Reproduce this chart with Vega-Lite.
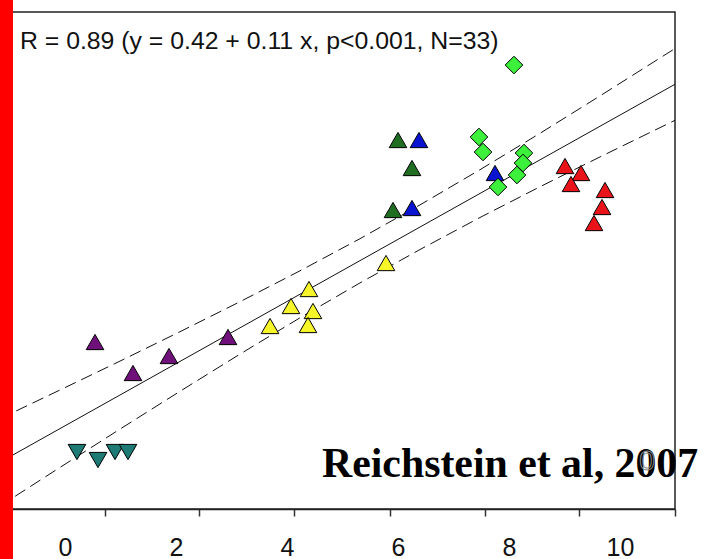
{
  "$schema": "https://vega.github.io/schema/vega-lite/v6.json",
  "width": 675,
  "height": 497,
  "autosize": {"type": "none"},
  "padding": {"left": 0, "top": 12, "right": 29, "bottom": 50},
  "background": "white",
  "config": {
    "view": {"stroke": "#222", "strokeWidth": 1.5, "fill": "white"},
    "axis": {"grid": false, "title": null}
  },
  "datasets": {
    "bands": [
      {"band": "upper", "x": -1.171, "y": 0.4454},
      {"band": "upper", "x": -0.090, "y": 0.5467},
      {"band": "upper", "x": 0.991, "y": 0.6490},
      {"band": "upper", "x": 2.072, "y": 0.7531},
      {"band": "upper", "x": 3.153, "y": 0.8593},
      {"band": "upper", "x": 4.234, "y": 0.9686},
      {"band": "upper", "x": 5.315, "y": 1.0823},
      {"band": "upper", "x": 6.396, "y": 1.2019},
      {"band": "upper", "x": 7.477, "y": 1.3265},
      {"band": "upper", "x": 8.559, "y": 1.4554},
      {"band": "upper", "x": 9.640, "y": 1.5878},
      {"band": "upper", "x": 10.991, "y": 1.7555},
      {"band": "lower", "x": -1.171, "y": 0.1361},
      {"band": "lower", "x": -0.090, "y": 0.2727},
      {"band": "lower", "x": 0.991, "y": 0.4083},
      {"band": "lower", "x": 2.072, "y": 0.5421},
      {"band": "lower", "x": 3.153, "y": 0.6738},
      {"band": "lower", "x": 4.234, "y": 0.8023},
      {"band": "lower", "x": 5.315, "y": 0.9258},
      {"band": "lower", "x": 6.396, "y": 1.0440},
      {"band": "lower", "x": 7.477, "y": 1.1573},
      {"band": "lower", "x": 8.559, "y": 1.2663},
      {"band": "lower", "x": 9.640, "y": 1.3718},
      {"band": "lower", "x": 10.991, "y": 1.5014}
    ],
    "fit": [
      {"x": -1.171, "y": 0.2912},
      {"x": 10.991, "y": 1.6290}
    ],
    "points": [
      {"site": "purple", "x": 0.541, "y": 0.7166},
      {"site": "purple", "x": 1.225, "y": 0.6069},
      {"site": "purple", "x": 1.874, "y": 0.6670},
      {"site": "purple", "x": 2.937, "y": 0.7343},
      {"site": "teal", "x": 0.216, "y": 0.3272},
      {"site": "teal", "x": 0.595, "y": 0.2989},
      {"site": "teal", "x": 0.901, "y": 0.3272},
      {"site": "teal", "x": 1.135, "y": 0.3272},
      {"site": "yellow", "x": 3.694, "y": 0.7732},
      {"site": "yellow", "x": 4.072, "y": 0.8440},
      {"site": "yellow", "x": 4.396, "y": 0.9042},
      {"site": "yellow", "x": 4.468, "y": 0.8263},
      {"site": "yellow", "x": 4.378, "y": 0.7768},
      {"site": "yellow", "x": 5.784, "y": 0.9962},
      {"site": "darkgreen", "x": 6.000, "y": 1.4316},
      {"site": "darkgreen", "x": 6.252, "y": 1.3325},
      {"site": "darkgreen", "x": 5.910, "y": 1.1839},
      {"site": "blue", "x": 6.378, "y": 1.4316},
      {"site": "blue", "x": 6.252, "y": 1.1909},
      {"site": "blue", "x": 7.748, "y": 1.3148},
      {"site": "lightgreen", "x": 8.090, "y": 1.6971},
      {"site": "lightgreen", "x": 7.459, "y": 1.4423},
      {"site": "lightgreen", "x": 7.532, "y": 1.3892},
      {"site": "lightgreen", "x": 7.802, "y": 1.2653},
      {"site": "lightgreen", "x": 8.270, "y": 1.3856},
      {"site": "lightgreen", "x": 8.252, "y": 1.3502},
      {"site": "lightgreen", "x": 8.144, "y": 1.3078},
      {"site": "red", "x": 9.009, "y": 1.3396},
      {"site": "red", "x": 9.297, "y": 1.3148},
      {"site": "red", "x": 9.117, "y": 1.2759},
      {"site": "red", "x": 9.730, "y": 1.2547},
      {"site": "red", "x": 9.676, "y": 1.1945},
      {"site": "red", "x": 9.532, "y": 1.1378}
    ]
  },
  "layer": [
    {
      "data": {"name": "bands"},
      "mark": {"type": "line", "color": "#111", "strokeWidth": 1, "strokeDash": [12, 6]},
      "encoding": {
        "x": {"field": "x", "type": "quantitative",
          "scale": {"domain": [-1.171, 10.991], "nice": false, "zero": false},
          "axis": {"orient": "bottom", "values": [0, 2, 4, 6, 8, 10], "ticks": false, "domain": false,
            "labelFont": "Liberation Sans", "labelFontSize": 25, "labelColor": "#111",
            "labelBaseline": "alphabetic", "labelPadding": 46, "labelFlush": false, "labelOverlap": false}},
        "y": {"field": "y", "type": "quantitative",
          "scale": {"domain": [0.1255, 1.8848], "nice": false, "zero": false}, "axis": null},
        "detail": {"field": "band"}
      }
    },
    {
      "data": {"name": "fit"},
      "mark": {"type": "line", "color": "#111", "strokeWidth": 1},
      "encoding": {
        "x": {"field": "x", "type": "quantitative",
          "axis": {"orient": "bottom", "values": [0.712, 2.423, 4.135, 5.847, 7.559, 9.270, 10.982],
            "labels": false, "ticks": true, "tickSize": 7, "tickWidth": 1.5, "tickColor": "#333",
            "domain": true, "domainColor": "#222", "domainWidth": 1.5}},
        "y": {"field": "y", "type": "quantitative", "axis": null}
      }
    },
    {
      "data": {"name": "points"},
      "mark": {"type": "point", "filled": true, "opacity": 1, "stroke": "black", "strokeWidth": 1, "size": 310},
      "encoding": {
        "x": {"field": "x", "type": "quantitative", "axis": null},
        "y": {"field": "y", "type": "quantitative", "axis": null},
        "color": {"field": "site", "type": "nominal", "legend": null,
          "scale": {"domain": ["purple", "teal", "yellow", "darkgreen", "blue", "lightgreen", "red"],
            "range": ["#70107a", "#1d7a74", "#f5f52a", "#1f6e22", "#0a14d0", "#3cf03c", "#e8141a"]}},
        "shape": {"field": "site", "type": "nominal", "legend": null,
          "scale": {"domain": ["purple", "teal", "yellow", "darkgreen", "blue", "lightgreen", "red"],
            "range": ["triangle-up", "triangle-down", "triangle-up", "triangle-up", "triangle-up", "diamond", "triangle-up"]}}
      }
    },
    {
      "data": {"values": [{"label": "R = 0.89 (y = 0.42 + 0.11 x, p<0.001, N=33)", "x": -0.811, "y": 1.7538}]},
      "mark": {"type": "text", "align": "left", "baseline": "alphabetic", "font": "Liberation Sans", "fontSize": 24.8, "color": "#111"},
      "encoding": {
        "x": {"field": "x", "type": "quantitative", "axis": null},
        "y": {"field": "y", "type": "quantitative", "axis": null},
        "text": {"field": "label"}
      }
    },
    {
      "data": {"values": [{"label": "Reichstein et al, 2007", "x": 4.631, "y": 0.2387}]},
      "mark": {"type": "text", "align": "left", "baseline": "alphabetic", "font": "Liberation Serif", "fontWeight": "bold", "fontSize": 41.8, "color": "#000"},
      "encoding": {
        "x": {"field": "x", "type": "quantitative", "axis": null},
        "y": {"field": "y", "type": "quantitative", "axis": null},
        "text": {"field": "label"}
      }
    },
    {
      "data": {"values": [{"label": "0", "x": 10.486, "y": 0.2635}]},
      "mark": {"type": "text", "align": "center", "baseline": "alphabetic", "font": "Liberation Sans", "fontSize": 28, "fillOpacity": 0, "stroke": "#888", "strokeWidth": 1},
      "encoding": {
        "x": {"field": "x", "type": "quantitative", "axis": null},
        "y": {"field": "y", "type": "quantitative", "axis": null},
        "text": {"field": "label"}
      }
    },
    {
      "data": {"values": [{"x0": -1.2, "x1": -0.937, "y0": -0.1, "y1": 2.0}]},
      "mark": {"type": "rect", "color": "#ff0000", "clip": false},
      "encoding": {
        "x": {"field": "x0", "type": "quantitative", "axis": null},
        "x2": {"field": "x1"},
        "y": {"field": "y0", "type": "quantitative", "axis": null},
        "y2": {"field": "y1"}
      }
    }
  ],
  "resolve": {"axis": {"x": "independent"}}
}
